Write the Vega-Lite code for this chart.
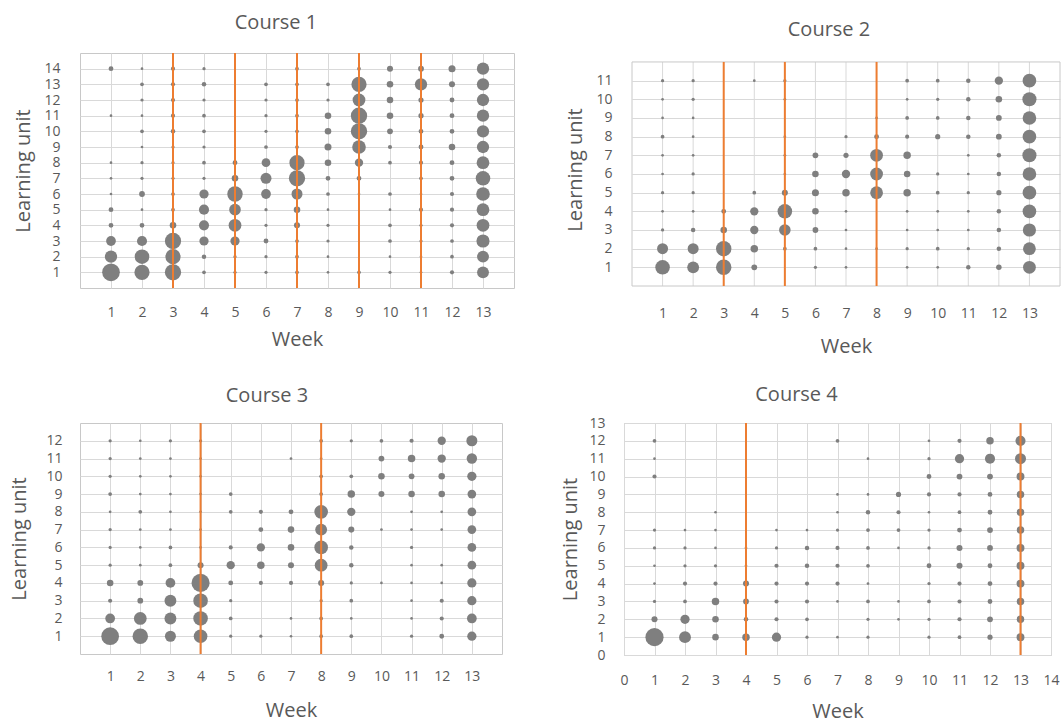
{
"$schema":"https://vega.github.io/schema/vega-lite/v6.json",
"padding":{"left":9,"top":12,"right":4,"bottom":0},
"config":{
 "font":"Open Sans",
 "view":{"stroke":"#c8c8c8","strokeWidth":1},
 "axis":{"grid":true,"gridColor":"#d9d9d9","gridWidth":1,"domain":false,"ticks":false,"labelColor":"#595959","labelFontSize":14,"titleColor":"#595959","titleFontSize":20,"titleFontWeight":"normal","labelOverlap":false,"labelFlush":false,"labelBound":false,"tickCount":40,"format":"d"},
 "title":{"color":"#595959","fontSize":20,"fontWeight":"normal"}
},
"datasets":{
"r1":[{"week":3},{"week":5},{"week":7},{"week":9},{"week":11}],
"r2":[{"week":3},{"week":5},{"week":8}],
"r3":[{"week":4},{"week":8}],
"r4":[{"week":4},{"week":13}],
"c1":[
{"week":1,"unit":1,"n":95},{"week":1,"unit":2,"n":45},{"week":1,"unit":3,"n":28},{"week":1,"unit":4,"n":6},{"week":1,"unit":5,"n":6},{"week":1,"unit":6,"n":1},{"week":1,"unit":7,"n":1},{"week":1,"unit":8,"n":1},{"week":1,"unit":11,"n":1},{"week":1,"unit":14,"n":6},
{"week":2,"unit":1,"n":70},{"week":2,"unit":2,"n":64},{"week":2,"unit":3,"n":30},{"week":2,"unit":4,"n":6},{"week":2,"unit":5,"n":1},{"week":2,"unit":6,"n":9},{"week":2,"unit":7,"n":2},{"week":2,"unit":8,"n":2},{"week":2,"unit":9,"n":1},{"week":2,"unit":10,"n":3},{"week":2,"unit":11,"n":1},{"week":2,"unit":12,"n":2},{"week":2,"unit":13,"n":3},{"week":2,"unit":14,"n":1},
{"week":3,"unit":1,"n":80},{"week":3,"unit":2,"n":70},{"week":3,"unit":3,"n":80},{"week":3,"unit":4,"n":12},{"week":3,"unit":5,"n":3},{"week":3,"unit":6,"n":3},{"week":3,"unit":7,"n":2},{"week":3,"unit":8,"n":2},{"week":3,"unit":9,"n":2},{"week":3,"unit":10,"n":5},{"week":3,"unit":11,"n":4},{"week":3,"unit":12,"n":4},{"week":3,"unit":13,"n":4},{"week":3,"unit":14,"n":4},
{"week":4,"unit":1,"n":3},{"week":4,"unit":2,"n":5},{"week":4,"unit":3,"n":25},{"week":4,"unit":4,"n":30},{"week":4,"unit":5,"n":30},{"week":4,"unit":6,"n":25},{"week":4,"unit":7,"n":2},{"week":4,"unit":8,"n":3},{"week":4,"unit":9,"n":2},{"week":4,"unit":10,"n":3},{"week":4,"unit":11,"n":3},{"week":4,"unit":12,"n":2},{"week":4,"unit":13,"n":5},{"week":4,"unit":14,"n":2},
{"week":5,"unit":1,"n":2},{"week":5,"unit":2,"n":2},{"week":5,"unit":3,"n":25},{"week":5,"unit":4,"n":49},{"week":5,"unit":5,"n":40},{"week":5,"unit":6,"n":72},{"week":5,"unit":7,"n":12},{"week":5,"unit":8,"n":6},
{"week":6,"unit":1,"n":2},{"week":6,"unit":2,"n":2},{"week":6,"unit":3,"n":6},{"week":6,"unit":4,"n":2},{"week":6,"unit":5,"n":2},{"week":6,"unit":6,"n":28},{"week":6,"unit":7,"n":36},{"week":6,"unit":8,"n":22},{"week":6,"unit":9,"n":3},{"week":6,"unit":10,"n":2},{"week":6,"unit":11,"n":2},{"week":6,"unit":12,"n":2},{"week":6,"unit":13,"n":3},
{"week":7,"unit":1,"n":3},{"week":7,"unit":2,"n":3},{"week":7,"unit":3,"n":3},{"week":7,"unit":4,"n":10},{"week":7,"unit":5,"n":12},{"week":7,"unit":6,"n":36},{"week":7,"unit":7,"n":80},{"week":7,"unit":8,"n":70},{"week":7,"unit":9,"n":3},{"week":7,"unit":10,"n":3},{"week":7,"unit":11,"n":3},{"week":7,"unit":12,"n":3},{"week":7,"unit":13,"n":3},{"week":7,"unit":14,"n":3},
{"week":8,"unit":1,"n":1},{"week":8,"unit":2,"n":1},{"week":8,"unit":3,"n":2},{"week":8,"unit":4,"n":2},{"week":8,"unit":5,"n":1},{"week":8,"unit":6,"n":3},{"week":8,"unit":7,"n":6},{"week":8,"unit":8,"n":12},{"week":8,"unit":9,"n":14},{"week":8,"unit":10,"n":12},{"week":8,"unit":11,"n":12},{"week":8,"unit":12,"n":2},{"week":8,"unit":13,"n":3},
{"week":9,"unit":1,"n":3},{"week":9,"unit":6,"n":1},{"week":9,"unit":7,"n":6},{"week":9,"unit":8,"n":20},{"week":9,"unit":9,"n":56},{"week":9,"unit":10,"n":81},{"week":9,"unit":11,"n":81},{"week":9,"unit":12,"n":49},{"week":9,"unit":13,"n":70},{"week":9,"unit":14,"n":3},
{"week":10,"unit":1,"n":2},{"week":10,"unit":2,"n":1},{"week":10,"unit":3,"n":3},{"week":10,"unit":4,"n":3},{"week":10,"unit":5,"n":1},{"week":10,"unit":6,"n":3},{"week":10,"unit":8,"n":3},{"week":10,"unit":9,"n":4},{"week":10,"unit":10,"n":9},{"week":10,"unit":11,"n":12},{"week":10,"unit":12,"n":12},{"week":10,"unit":13,"n":12},{"week":10,"unit":14,"n":10},
{"week":11,"unit":1,"n":1},{"week":11,"unit":2,"n":1},{"week":11,"unit":3,"n":2},{"week":11,"unit":4,"n":2},{"week":11,"unit":5,"n":4},{"week":11,"unit":6,"n":1},{"week":11,"unit":7,"n":3},{"week":11,"unit":8,"n":4},{"week":11,"unit":9,"n":6},{"week":11,"unit":10,"n":6},{"week":11,"unit":11,"n":7},{"week":11,"unit":12,"n":7},{"week":11,"unit":13,"n":45},{"week":11,"unit":14,"n":9},
{"week":12,"unit":1,"n":4},{"week":12,"unit":2,"n":3},{"week":12,"unit":3,"n":3},{"week":12,"unit":4,"n":4},{"week":12,"unit":5,"n":4},{"week":12,"unit":6,"n":4},{"week":12,"unit":7,"n":6},{"week":12,"unit":8,"n":6},{"week":12,"unit":9,"n":12},{"week":12,"unit":10,"n":6},{"week":12,"unit":11,"n":6},{"week":12,"unit":12,"n":6},{"week":12,"unit":13,"n":10},{"week":12,"unit":14,"n":14},
{"week":13,"unit":1,"n":42},{"week":13,"unit":2,"n":42},{"week":13,"unit":3,"n":52},{"week":13,"unit":4,"n":49},{"week":13,"unit":5,"n":49},{"week":13,"unit":6,"n":56},{"week":13,"unit":7,"n":64},{"week":13,"unit":8,"n":49},{"week":13,"unit":9,"n":45},{"week":13,"unit":10,"n":45},{"week":13,"unit":11,"n":45},{"week":13,"unit":12,"n":45},{"week":13,"unit":13,"n":45},{"week":13,"unit":14,"n":45}
],
"c2":[
{"week":1,"unit":1,"n":64},{"week":1,"unit":2,"n":36},{"week":1,"unit":3,"n":2},{"week":1,"unit":4,"n":1},{"week":1,"unit":5,"n":2},{"week":1,"unit":6,"n":1},{"week":1,"unit":7,"n":1},{"week":1,"unit":8,"n":3},{"week":1,"unit":9,"n":1},{"week":1,"unit":10,"n":1},{"week":1,"unit":11,"n":2},
{"week":2,"unit":1,"n":42},{"week":2,"unit":2,"n":36},{"week":2,"unit":3,"n":5},{"week":2,"unit":4,"n":1},{"week":2,"unit":5,"n":2},{"week":2,"unit":6,"n":2},{"week":2,"unit":7,"n":1},{"week":2,"unit":8,"n":1},{"week":2,"unit":9,"n":1},{"week":2,"unit":10,"n":2},{"week":2,"unit":11,"n":2},
{"week":3,"unit":1,"n":72},{"week":3,"unit":2,"n":72},{"week":3,"unit":3,"n":12},{"week":3,"unit":4,"n":6},
{"week":4,"unit":1,"n":9},{"week":4,"unit":2,"n":16},{"week":4,"unit":3,"n":20},{"week":4,"unit":4,"n":20},{"week":4,"unit":5,"n":3},{"week":4,"unit":11,"n":1},
{"week":5,"unit":2,"n":3},{"week":5,"unit":3,"n":40},{"week":5,"unit":4,"n":64},{"week":5,"unit":5,"n":10},{"week":5,"unit":6,"n":1},{"week":5,"unit":7,"n":1},{"week":5,"unit":8,"n":1},{"week":5,"unit":10,"n":1},{"week":5,"unit":11,"n":2},
{"week":6,"unit":1,"n":2},{"week":6,"unit":2,"n":3},{"week":6,"unit":3,"n":9},{"week":6,"unit":4,"n":12},{"week":6,"unit":5,"n":14},{"week":6,"unit":6,"n":12},{"week":6,"unit":7,"n":9},
{"week":7,"unit":1,"n":1},{"week":7,"unit":2,"n":1},{"week":7,"unit":3,"n":1},{"week":7,"unit":4,"n":1},{"week":7,"unit":5,"n":16},{"week":7,"unit":6,"n":20},{"week":7,"unit":7,"n":7},{"week":7,"unit":8,"n":2},
{"week":8,"unit":2,"n":1},{"week":8,"unit":5,"n":49},{"week":8,"unit":6,"n":49},{"week":8,"unit":7,"n":49},{"week":8,"unit":8,"n":6},{"week":8,"unit":9,"n":1},
{"week":9,"unit":1,"n":1},{"week":9,"unit":2,"n":2},{"week":9,"unit":3,"n":1},{"week":9,"unit":4,"n":1},{"week":9,"unit":5,"n":16},{"week":9,"unit":6,"n":12},{"week":9,"unit":7,"n":16},{"week":9,"unit":8,"n":4},{"week":9,"unit":9,"n":3},{"week":9,"unit":10,"n":1},{"week":9,"unit":11,"n":3},
{"week":10,"unit":1,"n":1},{"week":10,"unit":2,"n":3},{"week":10,"unit":3,"n":1},{"week":10,"unit":4,"n":1},{"week":10,"unit":5,"n":3},{"week":10,"unit":6,"n":2},{"week":10,"unit":8,"n":7},{"week":10,"unit":9,"n":3},{"week":10,"unit":10,"n":2},{"week":10,"unit":11,"n":3},
{"week":11,"unit":1,"n":5},{"week":11,"unit":2,"n":2},{"week":11,"unit":3,"n":1},{"week":11,"unit":4,"n":1},{"week":11,"unit":5,"n":2},{"week":11,"unit":6,"n":1},{"week":11,"unit":7,"n":1},{"week":11,"unit":8,"n":5},{"week":11,"unit":9,"n":5},{"week":11,"unit":10,"n":5},{"week":11,"unit":11,"n":5},
{"week":12,"unit":1,"n":8},{"week":12,"unit":2,"n":5},{"week":12,"unit":3,"n":5},{"week":12,"unit":4,"n":5},{"week":12,"unit":5,"n":7},{"week":12,"unit":6,"n":5},{"week":12,"unit":7,"n":5},{"week":12,"unit":8,"n":9},{"week":12,"unit":9,"n":9},{"week":12,"unit":10,"n":12},{"week":12,"unit":11,"n":20},
{"week":13,"unit":1,"n":49},{"week":13,"unit":2,"n":49},{"week":13,"unit":3,"n":52},{"week":13,"unit":4,"n":56},{"week":13,"unit":5,"n":56},{"week":13,"unit":6,"n":56},{"week":13,"unit":7,"n":60},{"week":13,"unit":8,"n":56},{"week":13,"unit":9,"n":56},{"week":13,"unit":10,"n":60},{"week":13,"unit":11,"n":56}
],
"c3":[
{"week":1,"unit":1,"n":95},{"week":1,"unit":2,"n":28},{"week":1,"unit":3,"n":4},{"week":1,"unit":4,"n":12},{"week":1,"unit":5,"n":2},{"week":1,"unit":6,"n":2},{"week":1,"unit":7,"n":2},{"week":1,"unit":8,"n":1},{"week":1,"unit":9,"n":3},{"week":1,"unit":10,"n":2},{"week":1,"unit":11,"n":2},{"week":1,"unit":12,"n":2},
{"week":2,"unit":1,"n":72},{"week":2,"unit":2,"n":49},{"week":2,"unit":3,"n":9},{"week":2,"unit":4,"n":9},{"week":2,"unit":5,"n":1},{"week":2,"unit":6,"n":1},{"week":2,"unit":7,"n":1},{"week":2,"unit":8,"n":3},{"week":2,"unit":9,"n":1},{"week":2,"unit":10,"n":1},{"week":2,"unit":11,"n":1},{"week":2,"unit":12,"n":1},
{"week":3,"unit":1,"n":36},{"week":3,"unit":2,"n":42},{"week":3,"unit":3,"n":42},{"week":3,"unit":4,"n":28},{"week":3,"unit":5,"n":3},{"week":3,"unit":6,"n":3},{"week":3,"unit":7,"n":1},{"week":3,"unit":8,"n":1},{"week":3,"unit":9,"n":1},{"week":3,"unit":10,"n":1},{"week":3,"unit":11,"n":1},{"week":3,"unit":12,"n":2},
{"week":4,"unit":1,"n":56},{"week":4,"unit":2,"n":64},{"week":4,"unit":3,"n":64},{"week":4,"unit":4,"n":100},{"week":4,"unit":5,"n":10},{"week":4,"unit":6,"n":1},{"week":4,"unit":7,"n":1},{"week":4,"unit":8,"n":1},{"week":4,"unit":9,"n":1},{"week":4,"unit":10,"n":1},{"week":4,"unit":11,"n":1},{"week":4,"unit":12,"n":2},
{"week":5,"unit":1,"n":2},{"week":5,"unit":2,"n":3},{"week":5,"unit":3,"n":2},{"week":5,"unit":4,"n":6},{"week":5,"unit":5,"n":20},{"week":5,"unit":6,"n":4},{"week":5,"unit":8,"n":3},{"week":5,"unit":9,"n":3},
{"week":6,"unit":1,"n":2},{"week":6,"unit":4,"n":4},{"week":6,"unit":5,"n":16},{"week":6,"unit":6,"n":20},{"week":6,"unit":7,"n":6},{"week":6,"unit":8,"n":4},
{"week":7,"unit":1,"n":1},{"week":7,"unit":2,"n":1},{"week":7,"unit":4,"n":4},{"week":7,"unit":5,"n":10},{"week":7,"unit":6,"n":12},{"week":7,"unit":7,"n":12},{"week":7,"unit":8,"n":6},{"week":7,"unit":11,"n":1},
{"week":8,"unit":1,"n":3},{"week":8,"unit":2,"n":3},{"week":8,"unit":3,"n":2},{"week":8,"unit":4,"n":10},{"week":8,"unit":5,"n":49},{"week":8,"unit":6,"n":56},{"week":8,"unit":7,"n":42},{"week":8,"unit":8,"n":56},{"week":8,"unit":9,"n":3},{"week":8,"unit":10,"n":3},{"week":8,"unit":11,"n":1},{"week":8,"unit":12,"n":3},
{"week":9,"unit":1,"n":3},{"week":9,"unit":2,"n":1},{"week":9,"unit":3,"n":3},{"week":9,"unit":4,"n":2},{"week":9,"unit":5,"n":5},{"week":9,"unit":6,"n":5},{"week":9,"unit":7,"n":10},{"week":9,"unit":8,"n":20},{"week":9,"unit":9,"n":16},{"week":9,"unit":10,"n":3},{"week":9,"unit":12,"n":2},
{"week":10,"unit":4,"n":1},{"week":10,"unit":7,"n":1},{"week":10,"unit":9,"n":10},{"week":10,"unit":10,"n":12},{"week":10,"unit":11,"n":9},{"week":10,"unit":12,"n":3},
{"week":11,"unit":1,"n":2},{"week":11,"unit":2,"n":1},{"week":11,"unit":3,"n":1},{"week":11,"unit":4,"n":1},{"week":11,"unit":5,"n":1},{"week":11,"unit":6,"n":2},{"week":11,"unit":7,"n":1},{"week":11,"unit":8,"n":1},{"week":11,"unit":9,"n":12},{"week":11,"unit":10,"n":9},{"week":11,"unit":11,"n":16},{"week":11,"unit":12,"n":4},
{"week":12,"unit":1,"n":6},{"week":12,"unit":2,"n":4},{"week":12,"unit":3,"n":4},{"week":12,"unit":4,"n":1},{"week":12,"unit":5,"n":1},{"week":12,"unit":7,"n":1},{"week":12,"unit":8,"n":1},{"week":12,"unit":9,"n":12},{"week":12,"unit":10,"n":12},{"week":12,"unit":11,"n":20},{"week":12,"unit":12,"n":20},
{"week":13,"unit":1,"n":25},{"week":13,"unit":2,"n":28},{"week":13,"unit":3,"n":25},{"week":13,"unit":4,"n":25},{"week":13,"unit":5,"n":22},{"week":13,"unit":6,"n":22},{"week":13,"unit":7,"n":22},{"week":13,"unit":8,"n":22},{"week":13,"unit":9,"n":22},{"week":13,"unit":10,"n":25},{"week":13,"unit":11,"n":32},{"week":13,"unit":12,"n":36}
],
"c4":[
{"week":1,"unit":1,"n":100},{"week":1,"unit":2,"n":10},{"week":1,"unit":3,"n":2},{"week":1,"unit":4,"n":1},{"week":1,"unit":5,"n":1},{"week":1,"unit":6,"n":2},{"week":1,"unit":7,"n":2},{"week":1,"unit":10,"n":4},{"week":1,"unit":11,"n":1},{"week":1,"unit":12,"n":3},
{"week":2,"unit":1,"n":42},{"week":2,"unit":2,"n":25},{"week":2,"unit":3,"n":3},{"week":2,"unit":4,"n":4},{"week":2,"unit":5,"n":2},{"week":2,"unit":6,"n":2},{"week":2,"unit":7,"n":1},
{"week":3,"unit":1,"n":12},{"week":3,"unit":2,"n":12},{"week":3,"unit":3,"n":16},{"week":3,"unit":4,"n":4},{"week":3,"unit":5,"n":2},{"week":3,"unit":6,"n":1},{"week":3,"unit":7,"n":1},{"week":3,"unit":8,"n":1},
{"week":4,"unit":1,"n":16},{"week":4,"unit":2,"n":5},{"week":4,"unit":3,"n":9},{"week":4,"unit":4,"n":10},{"week":4,"unit":5,"n":1},{"week":4,"unit":6,"n":1},
{"week":5,"unit":1,"n":25},{"week":5,"unit":2,"n":4},{"week":5,"unit":3,"n":4},{"week":5,"unit":4,"n":4},{"week":5,"unit":5,"n":4},{"week":5,"unit":6,"n":2},{"week":5,"unit":7,"n":1},
{"week":6,"unit":1,"n":2},{"week":6,"unit":2,"n":3},{"week":6,"unit":3,"n":4},{"week":6,"unit":4,"n":4},{"week":6,"unit":5,"n":5},{"week":6,"unit":6,"n":5},{"week":6,"unit":7,"n":1},
{"week":7,"unit":1,"n":1},{"week":7,"unit":3,"n":1},{"week":7,"unit":4,"n":4},{"week":7,"unit":5,"n":4},{"week":7,"unit":6,"n":4},{"week":7,"unit":7,"n":2},{"week":7,"unit":8,"n":1},{"week":7,"unit":9,"n":1},{"week":7,"unit":12,"n":3},
{"week":8,"unit":1,"n":2},{"week":8,"unit":2,"n":2},{"week":8,"unit":3,"n":3},{"week":8,"unit":4,"n":1},{"week":8,"unit":5,"n":3},{"week":8,"unit":6,"n":3},{"week":8,"unit":7,"n":3},{"week":8,"unit":8,"n":5},{"week":8,"unit":9,"n":1},{"week":8,"unit":11,"n":1},
{"week":9,"unit":2,"n":1},{"week":9,"unit":3,"n":1},{"week":9,"unit":6,"n":1},{"week":9,"unit":7,"n":3},{"week":9,"unit":8,"n":4},{"week":9,"unit":9,"n":7},
{"week":10,"unit":1,"n":2},{"week":10,"unit":2,"n":2},{"week":10,"unit":3,"n":3},{"week":10,"unit":4,"n":2},{"week":10,"unit":5,"n":6},{"week":10,"unit":6,"n":2},{"week":10,"unit":7,"n":2},{"week":10,"unit":8,"n":1},{"week":10,"unit":9,"n":4},{"week":10,"unit":10,"n":6},{"week":10,"unit":11,"n":2},{"week":10,"unit":12,"n":1},
{"week":11,"unit":1,"n":3},{"week":11,"unit":2,"n":4},{"week":11,"unit":3,"n":4},{"week":11,"unit":4,"n":4},{"week":11,"unit":5,"n":10},{"week":11,"unit":6,"n":10},{"week":11,"unit":7,"n":6},{"week":11,"unit":8,"n":3},{"week":11,"unit":9,"n":4},{"week":11,"unit":10,"n":9},{"week":11,"unit":11,"n":25},{"week":11,"unit":12,"n":4},
{"week":12,"unit":1,"n":7},{"week":12,"unit":2,"n":9},{"week":12,"unit":3,"n":6},{"week":12,"unit":4,"n":6},{"week":12,"unit":5,"n":6},{"week":12,"unit":6,"n":9},{"week":12,"unit":7,"n":9},{"week":12,"unit":8,"n":6},{"week":12,"unit":9,"n":6},{"week":12,"unit":10,"n":9},{"week":12,"unit":11,"n":30},{"week":12,"unit":12,"n":16},
{"week":13,"unit":1,"n":18},{"week":13,"unit":2,"n":16},{"week":13,"unit":3,"n":16},{"week":13,"unit":4,"n":18},{"week":13,"unit":5,"n":18},{"week":13,"unit":6,"n":18},{"week":13,"unit":7,"n":16},{"week":13,"unit":8,"n":16},{"week":13,"unit":9,"n":16},{"week":13,"unit":10,"n":18},{"week":13,"unit":11,"n":36},{"week":13,"unit":12,"n":30}
]
},
"spacing":28,
"vconcat":[
{"spacing":50,"hconcat":[
 {"width":434,"height":235,"title":{"text":"Course 1","offset":19,"dx":-21},
  "layer":[
   {"data":{"name":"c1"},"mark":{"type":"circle","color":"#7f7f7f","opacity":1},
    "encoding":{
     "x":{"field":"week","type":"quantitative","scale":{"domain":[0,14],"nice":false,"zero":false},"axis":{"values":[1,2,3,4,5,6,7,8,9,10,11,12,13],"format":"d","tickCount":40,"labelOverlap":false,"title":"Week","labelPadding":17,"titlePadding":10}},
     "y":{"field":"unit","type":"quantitative","scale":{"domain":[0,15],"nice":false,"zero":false},"axis":{"values":[1,2,3,4,5,6,7,8,9,10,11,12,13,14],"format":"d","tickCount":40,"labelOverlap":false,"title":"Learning unit","labelPadding":20,"titlePadding":10}},
     "size":{"field":"n","type":"quantitative","scale":{"domain":[0,100],"range":[4,330]},"legend":null}}},
   {"data":{"name":"r1"},"mark":{"type":"rule","color":"#ED7D31","strokeWidth":2},
    "encoding":{"x":{"field":"week","type":"quantitative"}}}
  ]},
 {"width":428,"height":233,"title":{"text":"Course 2","offset":13,"dx":-17},
  "view":{"stroke":null},
  "layer":[
   {"data":{"name":"c2"},"transform":[{"aggregate":[{"op":"count","as":"k"}],"groupby":["week"]}],
    "mark":{"type":"rule","color":"#d9d9d9","strokeWidth":1},
    "encoding":{"x":{"field":"week","type":"quantitative"},"y":{"datum":0},"y2":{"datum":12}}},
   {"data":{"values":[{}]},"mark":{"type":"rect","filled":false,"color":"#c8c8c8","strokeWidth":1},
    "encoding":{"x":{"datum":0},"x2":{"datum":14},"y":{"datum":0},"y2":{"datum":12}}},
   {"data":{"name":"c2"},"mark":{"type":"circle","color":"#7f7f7f","opacity":1},
    "encoding":{
     "x":{"field":"week","type":"quantitative","scale":{"domain":[0,14],"nice":false,"zero":false},"axis":{"values":[1,2,3,4,5,6,7,8,9,10,11,12,13],"format":"d","tickCount":40,"grid":false,"labelOverlap":false,"title":"Week","labelPadding":20,"titlePadding":16}},
     "y":{"field":"unit","type":"quantitative","scale":{"domain":[0,12.48],"nice":false,"zero":false},"axis":{"values":[1,2,3,4,5,6,7,8,9,10,11],"format":"d","tickCount":40,"labelOverlap":false,"title":"Learning unit","labelPadding":20,"titlePadding":10}},
     "size":{"field":"n","type":"quantitative","scale":{"domain":[0,100],"range":[4,330]},"legend":null}}},
   {"data":{"name":"r2"},"mark":{"type":"rule","color":"#ED7D31","strokeWidth":2},
    "encoding":{"x":{"field":"week","type":"quantitative"},"y":{"datum":0},"y2":{"datum":12}}}
  ]}
]},
{"spacing":57,"hconcat":[
 {"width":422,"height":231,"title":{"text":"Course 3","offset":16,"dx":-24},
  "layer":[
   {"data":{"name":"c3"},"mark":{"type":"circle","color":"#7f7f7f","opacity":1},
    "encoding":{
     "x":{"field":"week","type":"quantitative","scale":{"domain":[0,14],"nice":false,"zero":false},"axis":{"values":[1,2,3,4,5,6,7,8,9,10,11,12,13],"format":"d","tickCount":40,"labelOverlap":false,"title":"Week","labelPadding":15,"titlePadding":17}},
     "y":{"field":"unit","type":"quantitative","scale":{"domain":[0,13],"nice":false,"zero":false},"axis":{"values":[1,2,3,4,5,6,7,8,9,10,11,12],"format":"d","tickCount":40,"labelOverlap":false,"title":"Learning unit","labelPadding":18,"titlePadding":16}},
     "size":{"field":"n","type":"quantitative","scale":{"domain":[0,100],"range":[4,330]},"legend":null}}},
   {"data":{"name":"r3"},"mark":{"type":"rule","color":"#ED7D31","strokeWidth":2},
    "encoding":{"x":{"field":"week","type":"quantitative"}}}
  ]},
 {"width":427,"height":232,"title":{"text":"Course 4","offset":11,"dx":-41},
  "layer":[
   {"data":{"name":"c4"},"mark":{"type":"circle","color":"#7f7f7f","opacity":1},
    "encoding":{
     "x":{"field":"week","type":"quantitative","scale":{"domain":[0,14],"nice":false,"zero":false},"axis":{"values":[0,1,2,3,4,5,6,7,8,9,10,11,12,13,14],"format":"d","tickCount":40,"labelOverlap":false,"title":"Week","labelPadding":18,"titlePadding":14}},
     "y":{"field":"unit","type":"quantitative","scale":{"domain":[0,13],"nice":false,"zero":false},"axis":{"values":[0,1,2,3,4,5,6,7,8,9,10,11,12,13],"format":"d","tickCount":40,"labelOverlap":false,"title":"Learning unit","labelPadding":19,"titlePadding":8}},
     "size":{"field":"n","type":"quantitative","scale":{"domain":[0,100],"range":[4,330]},"legend":null}}},
   {"data":{"name":"r4"},"mark":{"type":"rule","color":"#ED7D31","strokeWidth":2},
    "encoding":{"x":{"field":"week","type":"quantitative"}}}
  ]}
]}
]
}
